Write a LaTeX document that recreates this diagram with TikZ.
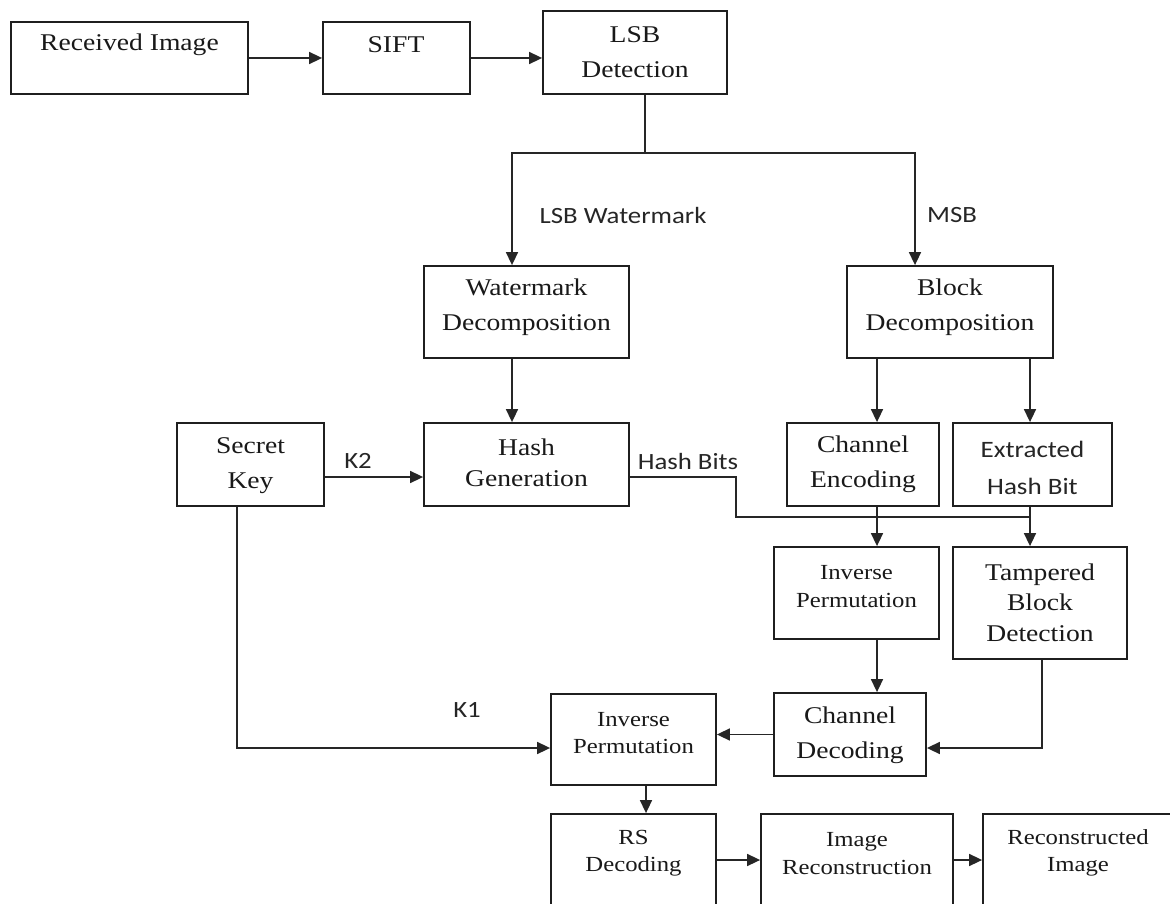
\documentclass[tikz,border=0pt]{standalone}
\usepackage{fontspec}
\setmainfont{Liberation Serif}[FakeStretch=1.15]
\newfontfamily\lblfont{Carlito}[FakeStretch=1.15]
\usetikzlibrary{arrows.meta}
\newcommand\mybox[5]{\node[box, minimum width={(#4-#2)*1pt}, minimum height={(#5-#3)*1pt}] (#1) at ({(#2+#4)/2},{(#3+#5)/2}) {};}
\begin{document}
\begin{tikzpicture}[x=1pt,y=-1pt,
  box/.style={draw=black!88, line width=1.8pt, rectangle, inner sep=0pt},
  conn/.style={draw=black!85, line width=1.6pt},
  arr/.style={conn, -{Triangle[length=13pt,width=12pt]}},
  bigtxt/.style={align=center, inner sep=0pt, text=black!90, font=\fontsize{24}{35}\selectfont},
  midtxt/.style={align=center, inner sep=0pt, text=black!90, font=\fontsize{24}{30.5}\selectfont},
  smalltxt/.style={align=center, inner sep=0pt, text=black!90, font=\fontsize{21.5}{27.5}\selectfont},
  lbl/.style={inner sep=0pt, text=black!85, font=\lblfont\fontsize{23.3}{28}\selectfont},
  sanstxt/.style={align=center, inner sep=0pt, text=black!85, font=\lblfont\fontsize{23.5}{37}\selectfont}
]
\useasboundingbox (0,0) rectangle (1170,904);
\clip (0,0) rectangle (1170,904);
\fill[white] (0,0) rectangle (1170,904);

% boxes
\mybox{recv}{11}{22}{248}{94}
\mybox{sift}{323}{22}{470}{94}
\mybox{lsb}{543}{11}{727}{94}
\mybox{wmd}{424}{266}{629}{358}
\mybox{bd}{847}{266}{1053}{358}
\mybox{sk}{177}{423}{324}{506}
\mybox{hg}{424}{423}{629}{506}
\mybox{ce}{787}{423}{939}{506}
\mybox{ehb}{953}{423}{1112}{506}
\mybox{ip1}{774}{547}{939}{639}
\mybox{tbd}{953}{547}{1127}{659}
\mybox{cd}{774}{693}{926}{776}
\mybox{ip2}{551}{694}{716}{785}
\mybox{rs}{551}{814}{716}{930}
\mybox{ir}{761}{814}{953}{930}
\mybox{ri}{983}{814}{1175}{930}

% box texts
\node[bigtxt] (recv-t) at (129.5,45) {Received Image};
\node[bigtxt] (sift-t) at (396,45) {SIFT};
\node[bigtxt] (lsb-t) at (635,52.5) {LSB\\Detection};
\node[bigtxt] (wmd-t) at (526.5,307.5) {Watermark\\Decomposition};
\node[bigtxt] (bd-t) at (950,307.5) {Block\\Decomposition};
\node[bigtxt] (sk-t) at (250.5,465.5) {Secret\\Key};
\node[midtxt] (hg-t) at (526.5,463) {Hash\\Generation};
\node[bigtxt] (ce-t) at (863,464.5) {Channel\\Encoding};
\node[sanstxt] (ehb-t) at (1032.5,467.5) {Extracted\\Hash Bit};
\node[smalltxt] (ip1-t) at (856.5,586.5) {Inverse\\Permutation};
\node[midtxt] (tbd-t) at (1040,602.5) {Tampered\\Block\\Detection};
\node[bigtxt] (cd-t) at (850,735) {Channel\\Decoding};
\node[smalltxt] (ip2-t) at (633.5,733) {Inverse\\Permutation};
\node[smalltxt] (rs-t) at (633.5,853) {RS\\Decoding};
\node[smalltxt] (ir-t) at (857,853.5) {Image\\Reconstruction};
\node[smalltxt] (ri-t) at (1078,853) {Reconstructed\\Image};

% labels
\node[lbl] (l-lsbw) at (623,215) {LSB Watermark};
\node[lbl] (l-msb) at (952,215) {MSB};
\node[lbl] (l-k2) at (358,461) {K2};
\node[lbl] (l-hb) at (688,461) {Hash Bits};
\node[lbl] (l-k1) at (467,710) {K1};

% connectors
\draw[arr] (recv.east) -- (sift.west);
\draw[arr] (sift.east) -- (sift.east -| lsb.west);
\coordinate (sp) at (645,153);
\coordinate (spL) at (512,153);
\coordinate (spR) at (915,153);
\draw[conn] (lsb.south -| sp) -- (sp);
\draw[arr] (sp) -- (spL) -- (spL |- wmd.north);
\draw[arr] (sp) -- (spR) -- (spR |- bd.north);
\draw[arr] (spL |- wmd.south) -- (spL |- hg.north);
\coordinate (bdL) at (877,0);
\coordinate (bdR) at (1030,0);
\draw[arr] (bd.south -| bdL) -- (ce.north -| bdL);
\draw[arr] (bd.south -| bdR) -- (ehb.north -| bdR);
\coordinate (k2) at (0,477);
\draw[arr] (sk.east |- k2) -- (hg.west |- k2);
\coordinate (hb1) at (736,477);
\coordinate (hb2) at (736,517);
\coordinate (hb3) at (1030,517);
\draw[conn] (hg.east |- hb1) -- (hb1) -- (hb2) -- (hb3);
\draw[arr] (ce.south -| bdL) -- (ip1.north -| bdL);
\draw[arr] (ehb.south -| bdR) -- (tbd.north -| bdR);
\draw[arr] (ip1.south -| bdL) -- (cd.north -| bdL);
\coordinate (td) at (1042,748);
\draw[arr] (tbd.south -| td) -- (td) -- (cd.east |- td);
\draw[arr] (cd.west) -- (cd.west -| ip2.east);
\coordinate (k1) at (237,748);
\draw[arr] (sk.south -| k1) -- (k1) -- (ip2.west |- k1);
\coordinate (rsx) at (646,0);
\draw[arr] (ip2.south -| rsx) -- (rs.north -| rsx);
\coordinate (bot) at (0,860);
\draw[arr] (rs.east |- bot) -- (ir.west |- bot);
\draw[arr] (ir.east |- bot) -- (ri.west |- bot);
\end{tikzpicture}
\end{document}
